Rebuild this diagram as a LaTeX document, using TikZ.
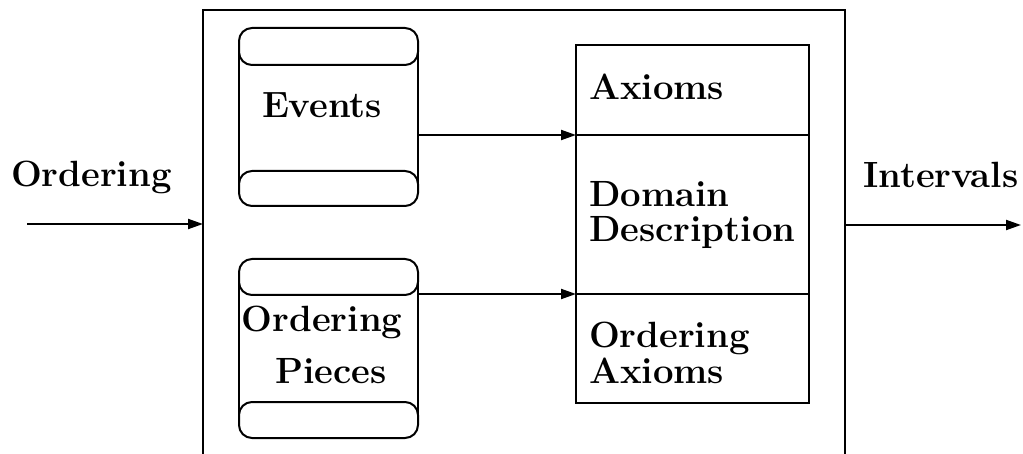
\documentclass[tikz,border=0pt]{standalone}
\usetikzlibrary{arrows.meta}
\begin{document}
\begin{tikzpicture}[x=1pt, y=-1pt, line width=2pt,
  lbl/.style={font=\fontsize{36.5}{40}\selectfont\bfseries, inner sep=0pt},
  part/.style={draw, minimum width=233pt, inner sep=0pt, outer sep=0pt},
  drum/.style={minimum width=179pt, inner sep=0pt, outer sep=0pt},
  drumcap/.style={draw, rounded corners=13pt},
  tip/.style={-{Triangle[length=15pt,width=10pt]}}]
\useasboundingbox (0,0) rectangle (1023,454);

% outer process box (open at the bottom edge)
\coordinate (boxL) at (203,456);
\coordinate (boxR) at (845,456);
\draw (boxL) -- (203,10) -- (845,10) -- (boxR);

% right-hand stacked box
\node[part, minimum height=90pt, anchor=north west] (ax) at (576,45) {};
\node[part, minimum height=159pt, anchor=north west] (dd) at (576,135) {};
\node[part, minimum height=109pt, anchor=north west] (oa) at (576,294) {};

% drum: Events
\node[drum, minimum height=178pt] (ev) at (328.5,117) {};
\draw[drumcap] (ev.north west) rectangle ++(179,37);
\draw[drumcap] (ev.south west) rectangle ++(179,-35);
\draw ([yshift=-13pt]ev.north west) -- ([yshift=13pt]ev.south west);
\draw ([yshift=-13pt]ev.north east) -- ([yshift=13pt]ev.south east);

% drum: Ordering Pieces
\node[drum, minimum height=179pt] (pc) at (328.5,348.5) {};
\draw[drumcap] (pc.north west) rectangle ++(179,36);
\draw[drumcap] (pc.south west) rectangle ++(179,-36);
\draw ([yshift=-13pt]pc.north west) -- ([yshift=13pt]pc.south west);
\draw ([yshift=-13pt]pc.north east) -- ([yshift=13pt]pc.south east);

% labels
\node[lbl, anchor=base west] at (10,187) {Ordering};
\node[lbl, anchor=base west] at (862,188) {Intervals};
\node[lbl, anchor=base west] at (261,118) {Events};
\node[lbl, anchor=base] at (322,332) {Ordering};
\node[lbl, anchor=base] at (331,383) {Pieces};
\node[lbl, anchor=base west] at (588,100) {Axioms};
\node[lbl, anchor=base west] at (588,207) {Domain};
\node[lbl, anchor=base west] at (588,242) {Description};
\node[lbl, anchor=base west] at (588,348) {Ordering};
\node[lbl, anchor=base west] at (588,383) {Axioms};

% connectors
\coordinate (src) at (27,224);
\coordinate (inL) at (203,224);
\coordinate (outR) at (845,225);
\coordinate (snk) at (1021,225);
\draw[tip] (src) -- (inL);
\draw[tip] (outR) -- (snk);
\draw[tip] (ev.east |- ax.south west) -- (ax.south west);
\draw[tip] (pc.east |- oa.north west) -- (oa.north west);
\end{tikzpicture}
\end{document}
